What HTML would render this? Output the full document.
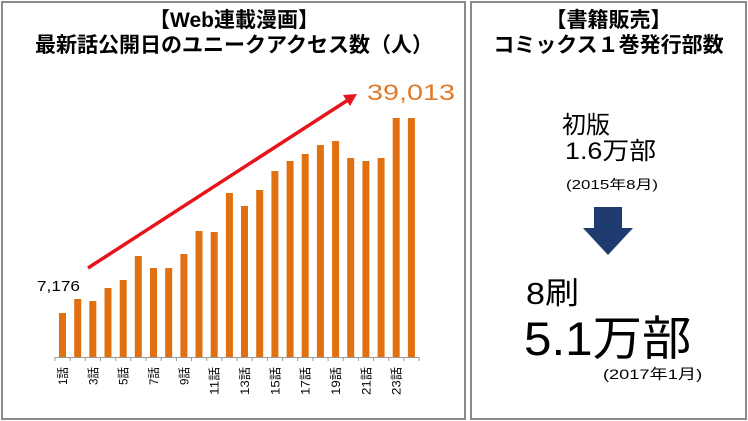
<!DOCTYPE html>
<html><head><meta charset="utf-8"><style>
body{margin:0;width:748px;height:421px;background:#fff;overflow:hidden;font-family:"Liberation Sans","Noto Sans CJK JP",sans-serif;}
.p{position:absolute;border:2px solid #8a8a8a;box-sizing:border-box;background:#fff}
.t{position:absolute;white-space:nowrap;color:#000;transform-origin:0 0}
</style></head><body>
<div class="p" style="left:1px;top:1px;width:465px;height:419px"></div>
<div class="p" style="left:470px;top:1px;width:277px;height:419px"></div>
<div class="t" style="left:0;width:468px;top:8px;text-align:center;font-size:21px;line-height:25px;font-weight:bold">【Web連載漫画】<br>最新話公開日のユニークアクセス数（人）</div>
<div class="t" style="left:470px;width:277px;top:8px;text-align:center;font-size:21px;line-height:25px;font-weight:bold">【書籍販売】<br>コミックス１巻発行部数</div>
<svg style="position:absolute;left:0;top:0" width="748" height="421">
<g fill="#e07010" id="bars"></g>
<line x1="55" y1="357.5" x2="419" y2="357.5" stroke="#999" stroke-width="1"/>
<g id="ticks" stroke="#999"></g>
<line x1="88" y1="268" x2="348" y2="100" stroke="#e8141b" stroke-width="3.5"/>
<polygon points="357,94 343,95 350,106" fill="#e8141b"/>
<text x="367" y="100" font-size="22" fill="#e07a2a" font-family="Liberation Sans, sans-serif" textLength="88" lengthAdjust="spacingAndGlyphs">39,013</text>
<text x="37" y="291" font-size="15" fill="#000" font-family="Liberation Sans, sans-serif" textLength="43" lengthAdjust="spacingAndGlyphs">7,176</text>
<g id="labels" font-size="12" font-family="Liberation Sans, Noto Sans CJK JP, sans-serif"></g>
<rect x="594" y="207" width="28" height="22" fill="#1f3a6e"/>
<polygon points="583,228 633,228 608,255" fill="#1f3a6e"/>
</svg>
<div class="t" style="left:562px;top:105px;font-size:24px">初版</div>
<div class="t" style="left:565px;top:131px;font-size:24px;transform:scaleX(1.12)">1.6万部</div>
<div class="t" style="left:566px;top:174px;font-size:13px;transform:scaleX(1.3)">(2015年8月)</div>
<div class="t" style="left:526px;top:268px;font-size:31px;transform:scaleX(1.1)">8刷</div>
<div class="t" style="left:524px;top:300px;font-size:47px;transform:scaleX(1.05)">5.1万部</div>
<div class="t" style="left:603px;top:364px;font-size:14px;transform:scaleX(1.3)">(2017年1月)</div>
<script>
var tops=[313,299,301,288,280,256,268,268,254,231,232,193,206,190,171,161,154,145,141,158,161,158,118,118];
var b='',t='',l='';
for(var i=0;i<24;i++){var x=59+i*15.17;b+='<rect x="'+x.toFixed(1)+'" y="'+tops[i]+'" width="7" height="'+(357-tops[i])+'"/>';}
for(var i=0;i<=24;i++){var x=55+i*15.17;t+='<line x1="'+x.toFixed(1)+'" y1="357" x2="'+x.toFixed(1)+'" y2="361"/>';}
for(var i=0;i<24;i+=2){var x=59+i*15.17+8;var s=(i+1)+'話';l+='<text transform="translate('+x.toFixed(1)+',367) rotate(-90)" text-anchor="end" textLength="'+(i<9?18:28)+'" lengthAdjust="spacingAndGlyphs">'+s+'</text>';}
document.getElementById('bars').innerHTML=b;document.getElementById('ticks').innerHTML=t;document.getElementById('labels').innerHTML=l;
</script>
</body></html>
